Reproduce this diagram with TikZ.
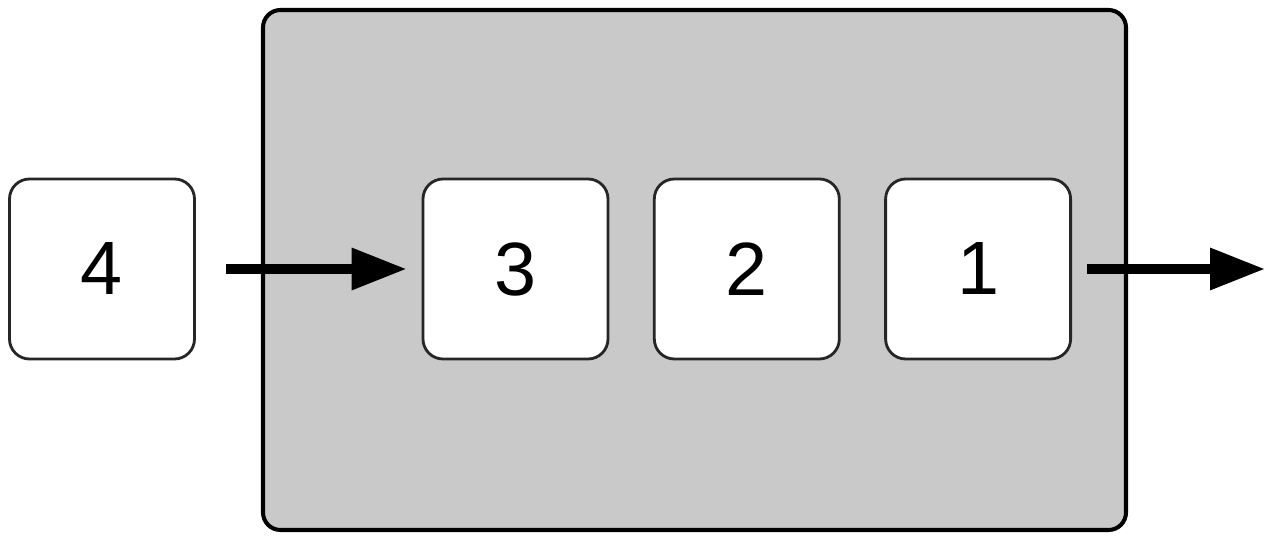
\documentclass[tikz,border=0pt]{standalone}
\usepackage{fontspec}
\setmainfont{Liberation Sans}
\usepackage{tikz}
\usetikzlibrary{positioning, arrows.meta}

\begin{document}
\begin{tikzpicture}[
  node distance=0.87cm,
  cell/.style={draw=black!85, line width=1.6pt, fill=white, rounded corners=0.4cm,
               minimum width=3.7cm, minimum height=3.6cm,
               font=\fontsize{43}{50}\selectfont},
  queue/.style={draw=black, line width=2.3pt, fill=black!21, rounded corners=0.35cm,
                minimum width=17.26cm, minimum height=10.4cm},
  flow/.style={-{Triangle[length=1.1cm, width=0.8cm]}, line width=5.5pt}
]
  \useasboundingbox (0,0) rectangle (25.6,10.86);

  % Gray area
  \node[queue] (queue) at (13.89,5.46) {};

  % Waiting item
  \node[cell] (n4) at (2.04,5.48) {4};

  % Items inside
  \node[cell] (n3) at (10.31,5.48) {3};
  \node[cell, right=of n3] (n2) {2};
  \node[cell, right=of n2] (n1) {1};

  % Arrows
  \coordinate (out) at (25.3,5.48);
  \draw[flow, shorten <=0.6cm, shorten >=0.3cm] (n4) -- (n3);
  \draw[flow, shorten <=0.3cm] (n1) -- (out);
\end{tikzpicture}
\end{document}
